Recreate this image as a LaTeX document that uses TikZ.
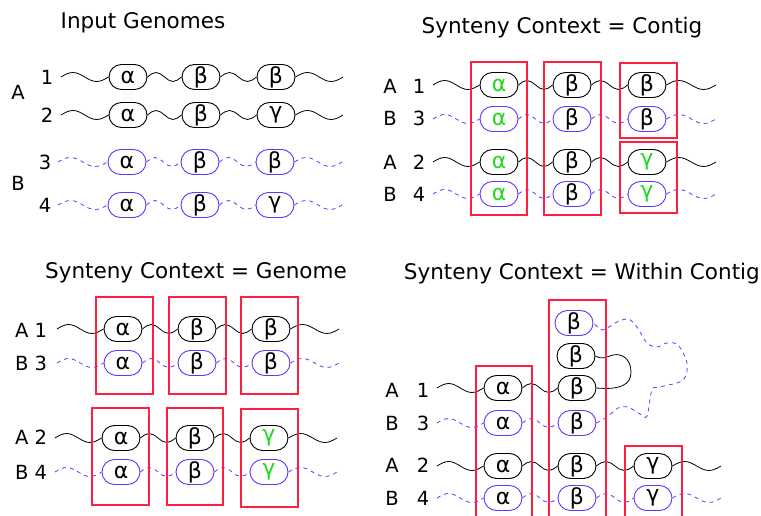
\documentclass[tikz,border=0pt]{standalone}
\usepackage{fontspec}
\setmainfont{DejaVu Sans}
\usetikzlibrary{calc,shapes.misc}

\definecolor{bluev}{HTML}{6633FF}
\definecolor{redbox}{HTML}{FF1F40}
\definecolor{greenhi}{HTML}{1FD81F}

\tikzset{
  gene/.style={rounded rectangle, draw, minimum width=38pt, minimum height=25pt,
    inner sep=0pt, line width=0.9pt, font=\fontsize{22}{26}\selectfont},
  genea/.style={gene, draw=black},
  geneb/.style={gene, draw=bluev},
  % one period of a sine wave between two points of equal height
  sinewave/.style={to path={
    (\tikztostart) sin ($(\tikztostart)!.25!(\tikztotarget)+(0,4.5pt)$)
    cos ($(\tikztostart)!.5!(\tikztotarget)$)
    sin ($(\tikztostart)!.75!(\tikztotarget)-(0,4.5pt)$)
    cos (\tikztotarget)}},
  wavea/.style={sinewave, draw=black, line width=0.8pt},
  waveb/.style={sinewave, draw=bluev, line width=0.8pt, dash pattern=on 4pt off 4pt},
  ctx/.style={draw=redbox, line width=1.1pt},
  lbl/.style={font=\fontsize{19.5}{23}\selectfont},
  ttl/.style={font=\fontsize{21.5}{25}\selectfont},
}

% a chromosome row: #1 name, #2 y, #3 a|b, #4 start x, #5 list x/glyph/colour
\newcommand\chrom[5]{%
  \coordinate (#1-0) at (#4,#2);
  \foreach \cx/\g/\c [count=\i, remember=\i as \j (initially 0)] in {#5} {
    \node[gene#3, text=\c] (#1-\i) at (\cx,#2) {\g};
    \ifnum\j=0 \draw[wave#3] (#1-0) to (#1-\i.west);
    \else \draw[wave#3] (#1-\j.east) to (#1-\i.west); \fi
  }%
}
% trailing wave: #1 name, #2 last index, #3 end x, #4 y, #5 a|b
\newcommand\chromtail[5]{%
  \coordinate (#1-e) at (#3,#4);
  \draw[wave#5] (#1-#2.east) to (#1-e);
}

\begin{document}
\begin{tikzpicture}[x=1pt,y=-1pt]
\useasboundingbox (0,0) rectangle (761,516);

% ---------- Input genomes ----------
\node[ttl] (t1) at (143,23) {Input Genomes};
\node[lbl] (pA) at (18,92) {A};
\node[lbl] (pB) at (18,183) {B};
\node[lbl] (n1) at (47,77) {1};
\node[lbl] (n2) at (47,115) {2};
\node[lbl] (n3) at (45,162) {3};
\node[lbl] (n4) at (45,205) {4};
\chrom{pa1}{77}{a}{61}{128/α/black,201/β/black,276/β/black}
\chromtail{pa1}{3}{343}{77}{a}
\chrom{pa2}{115}{a}{61}{128/α/black,201/β/black,276/γ/black}
\chromtail{pa2}{3}{343}{115}{a}
\chrom{pb3}{162}{b}{58}{127/α/black,200/β/black,275/β/black}
\chromtail{pb3}{3}{342}{162}{b}
\chrom{pb4}{205}{b}{58}{127/α/black,200/β/black,275/γ/black}
\chromtail{pb4}{3}{342}{205}{b}

% ---------- Context = Contig ----------
\node[ttl] (t2) at (562,28) {Synteny Context = Contig};
\node[lbl] (qA1) at (390,86) {A};  \node[lbl] (qn1) at (419,86) {1};
\node[lbl] (qB3) at (390,118) {B}; \node[lbl] (qn3) at (419,118) {3};
\node[lbl] (qA2) at (390,162) {A}; \node[lbl] (qn2) at (419,162) {2};
\node[lbl] (qB4) at (390,194) {B}; \node[lbl] (qn4) at (419,194) {4};
\chrom{qa1}{85}{a}{433}{499/α/greenhi,572/β/black,647/β/black}
\chromtail{qa1}{3}{716}{85}{a}
\chrom{qb3}{119}{b}{433}{499/α/greenhi,572/β/black,647/β/black}
\chromtail{qb3}{3}{716}{119}{b}
\chrom{qa2}{162}{a}{433}{499/α/greenhi,572/β/black,647/γ/greenhi}
\chromtail{qa2}{3}{716}{162}{a}
\chrom{qb4}{194}{b}{433}{499/α/greenhi,572/β/black,647/γ/greenhi}
\chromtail{qb4}{3}{716}{194}{b}
\draw[ctx] (471,62) rectangle (527,215);
\draw[ctx] (544,62) rectangle (601,215);
\draw[ctx] (620,63) rectangle (677,138);
\draw[ctx] (620,142) rectangle (677,213);

% ---------- Context = Genome ----------
\node[ttl] (t3) at (196,273) {Synteny Context = Genome};
\node[lbl] (rA1) at (31,330) {A 1};
\node[lbl] (rB3) at (31,363) {B 3};
\node[lbl] (rA2) at (31,437) {A 2};
\node[lbl] (rB4) at (31,472) {B 4};
\chrom{ra1}{329}{a}{57}{123/α/black,197/β/black,271/β/black}
\chromtail{ra1}{3}{339}{329}{a}
\chrom{rb3}{363}{b}{57}{123/α/black,197/β/black,271/β/black}
\chromtail{rb3}{3}{339}{363}{b}
\chrom{ra2}{438}{a}{55}{121/α/black,195/β/black,269/γ/greenhi}
\chromtail{ra2}{3}{337}{438}{a}
\chrom{rb4}{472}{b}{55}{121/α/black,195/β/black,269/γ/greenhi}
\chromtail{rb4}{3}{337}{472}{b}
\draw[ctx] (96,297) rectangle (153,394);
\draw[ctx] (169,297) rectangle (226,394);
\draw[ctx] (241,297) rectangle (298,394);
\draw[ctx] (92,408) rectangle (149,505);
\draw[ctx] (167,408) rectangle (223,505);
\draw[ctx] (241,409) rectangle (298,507);

% ---------- Context = Within Contig ----------
\node[ttl, anchor=east, inner xsep=0pt] (t4) at (760,274) {Synteny Context = Within Contig};
\node[lbl] (sA1) at (392,390) {A}; \node[lbl] (sn1) at (423,390) {1};
\node[lbl] (sB3) at (392,423) {B}; \node[lbl] (sn3) at (423,423) {3};
\node[lbl] (sA2) at (392,465) {A}; \node[lbl] (sn2) at (423,465) {2};
\node[lbl] (sB4) at (392,498) {B}; \node[lbl] (sn4) at (423,498) {4};
\chrom{sa1}{388}{a}{437}{503/α/black,577/β/black}
\chrom{sb3}{423}{b}{437}{503/α/black,577/β/black}
\chrom{sa2}{466}{a}{437}{503/α/black,577/β/black,653/γ/black}
\chromtail{sa2}{3}{721}{466}{a}
\chrom{sb4}{498}{b}{437}{503/α/black,577/β/black,653/γ/black}
\chromtail{sb4}{3}{721}{498}{b}
\node[genea] (sk) at (576,356) {β};
\node[geneb] (st) at (574,323) {β};
% contig A1 folds back onto the upper copy
\draw[black, line width=0.8pt] (sa1-2.east) .. controls (620,390) and (631,385) .. (631,372)
  .. controls (631,359) and (622,353) .. (613,355) .. controls (606,357) and (603,360) .. (sk.east);
% contig B3 wanders to the top copy
\draw[bluev, line width=0.8pt, dash pattern=on 4pt off 4pt] plot[smooth, tension=0.55] coordinates {
  (sb3-2.east) (607,417) (618,408) (628,407) (640,414) (647,416) (652,390) (660,387)
  (683,380) (687,363) (678,345) (667,343) (657,347) (647,343) (637,327) (628,319)
  (615,323) (603,330) (st.east)};
\draw[ctx] (476,520) -- (476,366) -- (532,366) -- (532,520);
\draw[ctx] (549,520) -- (549,300) -- (606,300) -- (606,520);
\draw[ctx] (625,520) -- (625,446) -- (682,446) -- (682,520);
\end{tikzpicture}
\end{document}
